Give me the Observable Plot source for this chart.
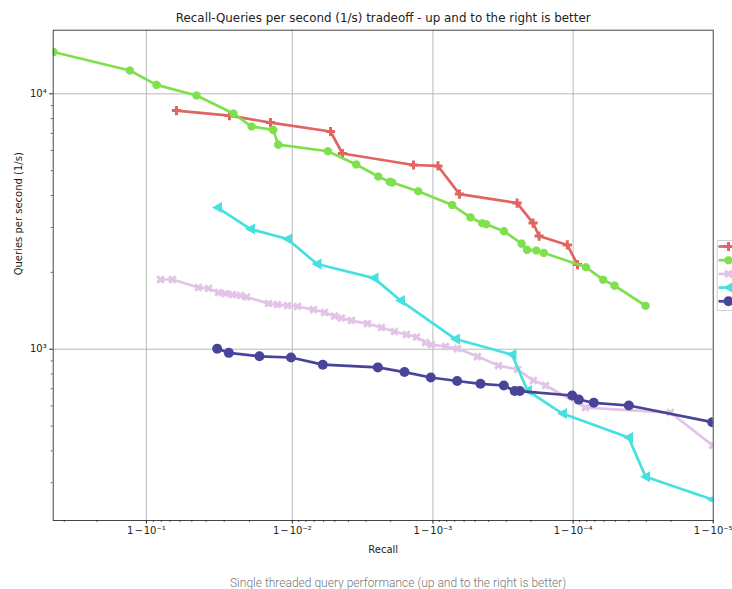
<!DOCTYPE html>
<html><head><meta charset="utf-8">
<script src="https://cdn.jsdelivr.net/npm/d3@7"></script>
<script src="https://cdn.jsdelivr.net/npm/@observablehq/plot@0.6"></script>
<style>
html,body{margin:0;padding:0;background:#fff;overflow:hidden;width:732px;height:589px}
#caption{font-family:Roboto,sans-serif;font-weight:300;font-size:12px;color:#777;line-height:14px;padding-left:230px;margin-top:11px;white-space:nowrap}
</style></head><body>
<div id="chart"></div>
<div id="caption">Single threaded query performance (up and to the right is better)</div>
<script>
// ---- data ----
const titleText = "Recall-Queries per second (1/s) tradeoff - up and to the right is better";
const xLabel = "Recall";
const yLabel = "Queries per second (1/s)";

const seriesNames = ["series 1", "series 2", "series 3", "series 4", "series 5"];
const seriesColors = ["#e0645f", "#7fe04e", "#e2c4e6", "#46e0e0", "#48449a"];

const redRecall = [0.9365, 0.9724, 0.98575, 0.99464, 0.99559, 0.998624, 0.999079, 0.999353, 0.999749, 0.999807, 0.999825, 0.99989, 0.999907];
const redQps = [8600, 8220, 7720, 7120, 5840, 5265, 5220, 4050, 3735, 3120, 2775, 2560, 2145];

const greenRecall = [0.6616, 0.8727, 0.914, 0.9535, 0.97414, 0.98063, 0.98637, 0.98743, 0.9944, 0.99648, 0.997545, 0.997971, 0.998048, 0.998727, 0.999271, 0.99946, 0.999555, 0.999583, 0.999688, 0.999767, 0.999787, 0.999817, 0.999838, 0.999919, 0.999939, 0.9999494, 0.9999696];
const greenQps = [14580, 12340, 10840, 9850, 8370, 7450, 7230, 6330, 5960, 5290, 4745, 4520, 4495, 4155, 3670, 3285, 3115, 3085, 2900, 2590, 2450, 2435, 2385, 2095, 1870, 1775, 1480];

const pinkRecall = [0.91903, 0.93253, 0.95495, 0.96151, 0.96716, 0.97062, 0.97373, 0.97689, 0.97901, 0.98529, 0.98728, 0.98919, 0.99081, 0.99292, 0.99409, 0.99498, 0.99552, 0.996197, 0.997074, 0.997674, 0.99812, 0.998457, 0.998691, 0.99887, 0.998976, 0.999186, 0.999332, 0.999519, 0.999659, 0.999751, 0.999808, 0.999843, 0.9999184, 0.9999798, 0.9999899];
const pinkQps = [1875, 1875, 1744, 1729, 1667, 1652, 1637, 1623, 1601, 1510, 1496, 1483, 1470, 1430, 1392, 1349, 1325, 1295, 1260, 1216, 1173, 1142, 1116, 1062, 1043, 1025, 1006, 936, 863, 833, 754, 721, 591, 565, 420];

const cyanRecall = [0.96662, 0.98032, 0.98919, 0.993315, 0.99737, 0.998297, 0.999309, 0.999727, 0.999788, 0.999881, 0.9999598, 0.9999696, 0.99998984];
const cyanQps = [3587, 2955, 2700, 2156, 1899, 1551, 1096, 953, 689, 560, 451, 317, 258];

const navyRecall = [0.96646, 0.97213, 0.98297, 0.98979, 0.99392, 0.99753, 0.998405, 0.998964, 0.999328, 0.999542, 0.999688, 0.999739, 0.99976, 0.9998985, 0.999909, 0.9999288, 0.99996, 0.99998984];
const navyQps = [1004, 968, 938, 928, 870, 849, 814, 775, 751, 732, 721, 686, 686, 659, 635, 617, 602, 518];

const xMajorTicks = [0.9, 0.99, 0.999, 0.9999, 0.99999];
const xMajorLabels = ["1\u200A−\u200A10⁻¹", "1\u200A−\u200A10⁻²", "1\u200A−\u200A10⁻³", "1\u200A−\u200A10⁻⁴", "1\u200A−\u200A10⁻⁵"];
const xMinorTicks = [0.7, 0.8,
  0.91, 0.92, 0.93, 0.94, 0.95, 0.96, 0.97, 0.98,
  0.991, 0.992, 0.993, 0.994, 0.995, 0.996, 0.997, 0.998,
  0.9991, 0.9992, 0.9993, 0.9994, 0.9995, 0.9996, 0.9997, 0.9998,
  0.99991, 0.99992, 0.99993, 0.99994, 0.99995, 0.99996, 0.99997, 0.99998];
const yMajorTicks = [1000, 10000];
const yMajorLabels = ["10³", "10⁴"];
const yMinorTicks = [300, 400, 500, 600, 700, 800, 900, 2000, 3000, 4000, 5000, 6000, 7000, 8000, 9000];
const xDomainRecall = [0.6605, 0.99999];
const yDomain = [213.5, 17750];

// ---- symbols ----
const logit = p => Math.log10(p / (1 - p));
const plusSym = {draw(c) { const a = 4.6, t = 1.5;
  c.moveTo(-t, -a); c.lineTo(t, -a); c.lineTo(t, -t); c.lineTo(a, -t); c.lineTo(a, t); c.lineTo(t, t);
  c.lineTo(t, a); c.lineTo(-t, a); c.lineTo(-t, t); c.lineTo(-a, t); c.lineTo(-a, -t); c.lineTo(-t, -t); c.closePath(); }};
const xSym = {draw(c) { const a = 4.6, t = 1.5, k = Math.SQRT1_2;
  const pts = [[-t,-a],[t,-a],[t,-t],[a,-t],[a,t],[t,t],[t,a],[-t,a],[-t,t],[-a,t],[-a,-t],[-t,-t]].map(([x,y]) => [k*(x - y), k*(x + y)]);
  c.moveTo(...pts[0]); for (const p of pts.slice(1)) c.lineTo(...p); c.closePath(); }};
const triLeftSym = {draw(c) { c.moveTo(-5.5, 0); c.lineTo(4.5, -5.5); c.lineTo(4.5, 5.5); c.closePath(); }};
const octSym = {draw(c) { const r = 4.4; for (let i = 0; i < 8; i++) { const a = Math.PI / 8 + i * Math.PI / 4; i ? c.lineTo(r*Math.cos(a), r*Math.sin(a)) : c.moveTo(r*Math.cos(a), r*Math.sin(a)); } c.closePath(); }};
const circSym = {draw(c) { c.moveTo(5, 0); c.arc(0, 0, 5, 0, 2 * Math.PI); }};
const lineSym = {draw(c) { c.moveTo(-10, 0); c.lineTo(12, 0); }};
const boxSym = {draw(c) { c.rect(-11.3, -35, 40, 70); }};

const symbols = [plusSym, octSym, xSym, triLeftSym, circSym];
const recalls = [redRecall, greenRecall, pinkRecall, cyanRecall, navyRecall];
const qpss = [redQps, greenQps, pinkQps, cyanQps, navyQps];

const marks = [
  Plot.gridX(xMajorTicks.slice(0, 4).map(logit), {stroke: "#b0b0b0", strokeOpacity: 1, strokeWidth: 0.9}),
  Plot.gridY(yMajorTicks, {stroke: "#b0b0b0", strokeOpacity: 1, strokeWidth: 0.9})
];
seriesNames.forEach((name, i) => {
  const rows = recalls[i].map((r, j) => ({series: name, recall: r, qps: qpss[i][j]}));
  marks.push(
    Plot.line(rows, {x: d => logit(d.recall), y: "qps", stroke: seriesColors[i], strokeWidth: 2.7, clip: true}),
    Plot.dot(rows, {x: d => logit(d.recall), y: "qps", symbol: symbols[i], fill: seriesColors[i], stroke: "none", clip: true})
  );
});
marks.push(
  Plot.frame({stroke: "#333", strokeWidth: 0.9}),
  Plot.axisX(xMajorTicks.map(logit), {tickSize: 3.5, tickPadding: 3, label: null,
    tickFormat: d => xMajorLabels[xMajorTicks.findIndex(t => Math.abs(logit(t) - d) < 1e-9)]}),
  Plot.axisX(xMinorTicks.map(logit), {tickSize: 2, strokeWidth: 0.7, label: null, tickFormat: () => ""}),
  Plot.axisY(yMajorTicks, {tickSize: 3.5, tickPadding: 3, label: null,
    tickFormat: d => yMajorLabels[yMajorTicks.indexOf(d)]}),
  Plot.axisY(yMinorTicks, {tickSize: 2, strokeWidth: 0.7, label: null, tickFormat: () => ""}),
  Plot.text([titleText], {frameAnchor: "top", dy: -11.7, lineAnchor: "middle", fontSize: 11.9}),
  Plot.text([xLabel], {frameAnchor: "bottom", dy: 29, lineAnchor: "middle", fontSize: 10}),
  Plot.text([yLabel], {frameAnchor: "left", dx: -34.7, rotate: -90, lineAnchor: "middle", fontSize: 10}),
  Plot.dot([0], {frameAnchor: "top-right", dx: 15.3, dy: 245.3, symbol: boxSym, fill: "white", stroke: "#cccccc", strokeWidth: 0.9})
);
seriesNames.forEach((name, i) => {
  const dy = 216.3 + 13.7 * i;
  marks.push(
    Plot.dot([name], {frameAnchor: "top-right", dx: 15.3, dy, symbol: lineSym, fill: "none", stroke: seriesColors[i], strokeWidth: 2.7}),
    Plot.dot([name], {frameAnchor: "top-right", dx: 15.3, dy, symbol: symbols[i], fill: seriesColors[i], stroke: "none"})
  );
});

const chart = Plot.plot({
  width: 732, height: 565,
  marginLeft: 52.7, marginRight: 19.3, marginTop: 29.7, marginBottom: 45,
  style: {fontFamily: "DejaVu Sans", fontSize: "10px", color: "#222", background: "white", overflow: "visible"},
  x: {type: "linear", domain: xDomainRecall.map(logit)},
  y: {type: "log", domain: yDomain},
  marks
});
document.getElementById("chart").appendChild(chart);
</script></body></html>
